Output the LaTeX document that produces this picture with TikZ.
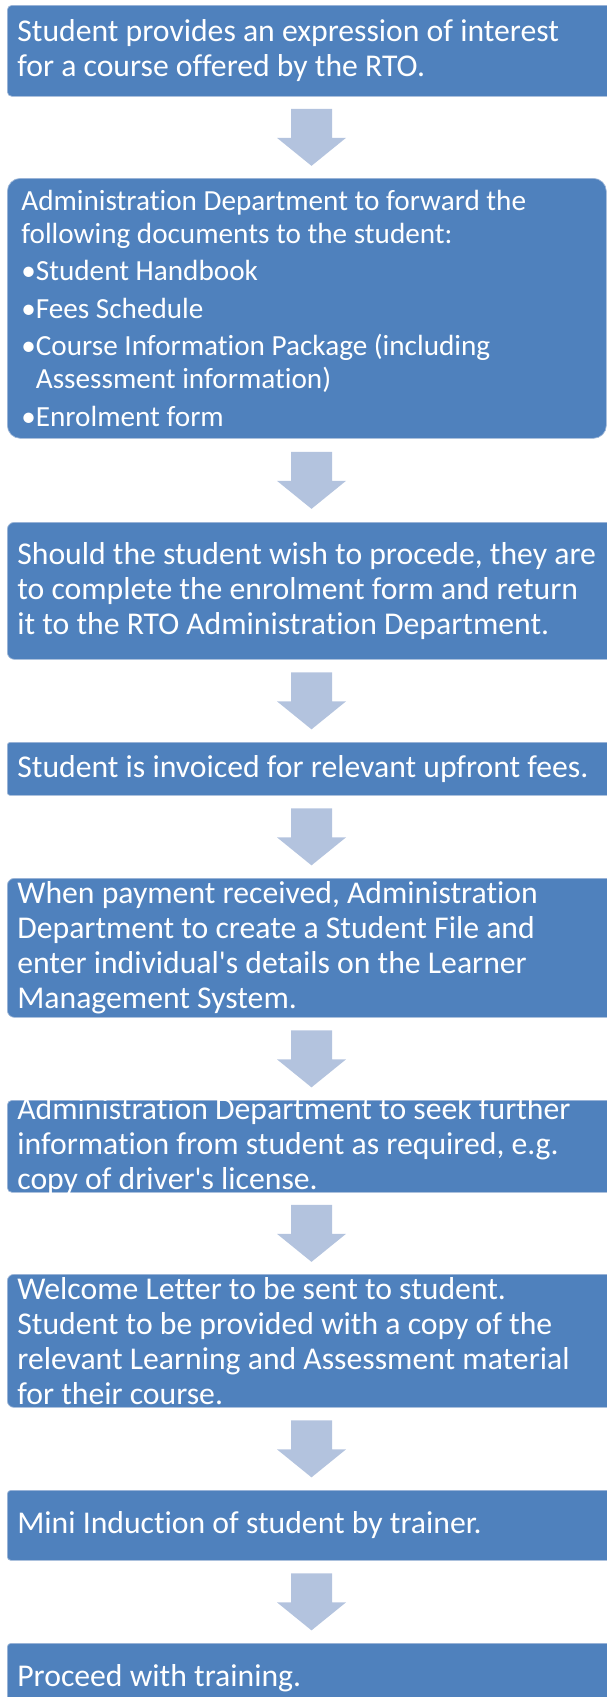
\documentclass[tikz,border=0pt]{standalone}
\usepackage{fontspec}
\setmainfont{Carlito}[RawFeature=-liga, RawFeature=-calt]
\usetikzlibrary{calc}

\definecolor{boxblue}{RGB}{79,129,189}
\definecolor{boxedge}{RGB}{160,184,216}
\definecolor{arrowblue}{RGB}{179,195,222}

% fixed size text block inside a step box
\newcommand{\steptext}[3]{\parbox[c][#1][c]{#2}{\raggedright #3}}

\tikzset{
  stepbox/.style={rectangle, rounded corners=#1, fill=boxblue, draw=boxedge, line width=0.7pt,
    text=white, inner xsep=10pt, inner ysep=0pt, anchor=north west,
    font=\fontsize{31.7}{35}\selectfont},
  stepbox/.default=5pt,
  flowarrow/.style={fill=arrowblue}
}

\begin{document}
\begin{tikzpicture}[x=1pt,y=1pt]
    % Page frame
    \useasboundingbox (0,0) rectangle (607,-1697);
    \clip (0,0) rectangle (607,-1697);

    % Steps of the enrolment
    \node[stepbox=4.5pt] (b1) at (7,-5) {\steptext{91pt}{589pt}{Student provides an expression of interest\\
        for a course offered by the RTO.}};

    \node[stepbox=13pt, inner xsep=14pt, font=\fontsize{29.2}{33}\selectfont] (b2) at (7,-178)
        {\steptext{260pt}{571pt}{Administration Department to forward the\\
        following documents to the student:\\[4.5pt]
        •Student Handbook\\[4.5pt]
        •Fees Schedule\\[4.5pt]
        •Course Information Package (including\\
        \phantom{•}Assessment information)\\[4.5pt]
        •Enrolment form}};

    \node[stepbox=7pt] (b3) at (7,-522) {\steptext{137pt}{589pt}{Should the student wish to procede, they are\\
        to complete the enrolment form and return\\
        it to the RTO Administration Department.}};

    \node[stepbox=2.7pt] (b4) at (7,-742) {\steptext{53pt}{589pt}{Student is invoiced for relevant upfront fees.}};

    \node[stepbox=7pt] (b5) at (7,-878) {\steptext{139pt}{589pt}{When payment received, Administration\\
        Department to create a Student File and\\
        enter individual\textquotesingle s details on the Learner\\
        Management System.}};

    \node[stepbox=4.6pt] (b6) at (7,-1100) {\steptext{92pt}{589pt}{Administration Department to seek further\\
        information from student as required, e.g.\\
        copy of driver\textquotesingle s license.}};

    \node[stepbox=6.6pt] (b7) at (7,-1274) {\steptext{133pt}{589pt}{Welcome Letter to be sent to student.\\
        Student to be provided with a copy of the\\
        relevant Learning and Assessment material\\
        for their course.}};

    \node[stepbox=3.5pt] (b8) at (7,-1490) {\steptext{70pt}{589pt}{Mini Induction of student by trainer.}};

    \node[stepbox=3.5pt] (b9) at (7,-1643) {\steptext{70pt}{589pt}{Proceed with training.}};

    % Block arrows between the steps
    \coordinate (axis) at (311.5,0);
    \foreach \up/\down in {b1/b2, b2/b3, b3/b4, b4/b5, b5/b6, b6/b7, b7/b8, b8/b9} {
        \fill[flowarrow] ($(\up.south -| axis)!0.5!(\down.north -| axis)$)
            ++(-20.5,28.5) -- ++(41,0) -- ++(0,-29) -- ++(14,0) -- ++(-34.5,-28)
            -- ++(-34.5,28) -- ++(14,0) -- cycle;
    }

\end{tikzpicture}
\end{document}
